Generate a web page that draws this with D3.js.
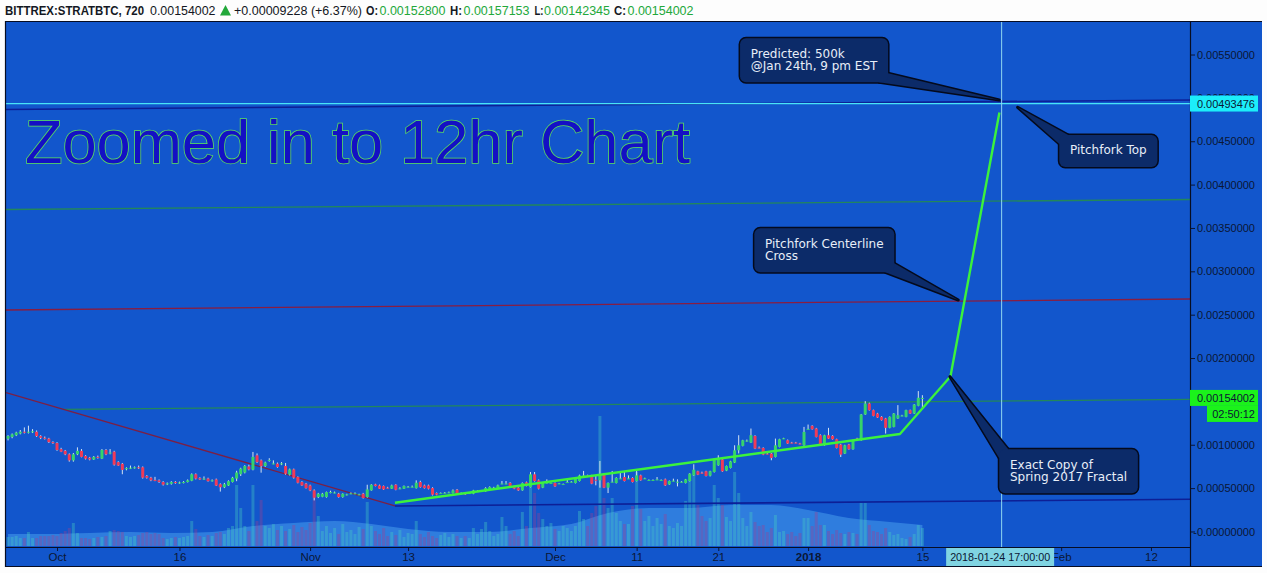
<!DOCTYPE html>
<html><head><meta charset="utf-8"><title>STRATBTC 12h</title>
<script src="https://cdn.jsdelivr.net/npm/d3@7/dist/d3.min.js"></script>
<style>html,body{margin:0;padding:0;background:#fff;overflow:hidden}svg{display:block}</style>
</head><body><svg id="chart" width="1267" height="573"></svg>
<script>
// ---------------- DATA ----------------
const symbolInfo = "BITTREX:STRATBTC, 720";
const lastPriceText = "0.00154002";
const changeText = "+0.00009228 (+6.37%)";
const headerLabels = ["O:", "H:", "L:", "C:"];
const headerValues = ["0.00152800", "0.00157153", "0.00142345", "0.00154002"];
const titleText = "Zoomed in to 12hr Chart";

const firstCandle = "2017-09-25T00:00:00Z";
const candleHours = 12;
const priceUnit = 1e-5; // OHLC values below are in units of 0.00001 BTC
const open = [
107,109,111,113,115,114,115,115,110,108,
107,103,102,95,93,89,82,89,93,87,
85,83,86,84,94,90,92,80,78,72,
73,73.5,74,74,64,62,59.5,59,57,54.5,
55,57,56,56,57,58.5,66,61.5,60,61,
58.5,60,54.5,51,53,57,61,66,68,75,
71.3,87.8,82,75.5,81.5,78,78.2,77.5,75.5,65.5,
71.6,62.8,57,55.1,53,47.4,39.7,40,39.7,45,
44.7,43.5,39.7,42.4,43.5,43.5,42.4,43.5,39.7,47.4,
54.3,53.1,52.4,50.5,49.3,53.9,49.3,49.3,51.2,51.2,
50,57,53.1,53.1,50,44.3,43.9,44.3,44.7,44.3,
48.1,43.5,44.3,44,43.5,46,46.2,46.2,48.5,50.1,
50.1,55,55,56,52,50.5,47.4,56.7,51.3,65.9,
59,50.5,55.9,55.5,55.9,55.1,54.3,56.5,57,55.9,
58.2,64.3,64.7,64.7,59.7,59,66.7,50.5,57,55.9,
60.9,62.8,60.9,61.7,58.2,64.7,60.9,59,59,59.7,
59,60.1,54.3,58.2,57,57,55.9,58.2,64.7,69.4,
67.8,69.4,64.4,68.6,76.3,83.2,70.1,73.2,79.4,93.6,
98.7,104.4,102.5,110.2,96.7,96.3,89.8,89.8,85.9,97.5,
107.1,105.2,102.5,102.5,101.4,99.4,117.9,121.8,118.7,111,
99.4,111,110.2,106.4,100.2,89.8,100.2,94.8,107.1,105.2,
134.9,147.6,139.9,136,132.2,130.3,119.5,120.6,130.3,133.3,
132.2,139.9,136,144.9,152.8];
const high = [
111,113,115,117,120,122,118,116.5,111,109.5,
108,104,103,96.5,94,90,90.5,97,95,88,
86,87,87.5,95,95,95,93,81,79,74,
76,75,76,75,65,63,63,60,58,56.5,
58,58,57.5,58,60,67,67,62.5,63.5,62,
60,61,55.5,56,59,63,70,73.5,76.5,77,
91.7,90,83,80.5,84.5,82,79.5,80,79,72.5,
72.5,63.5,58,56,54,48.5,44.5,44.5,46,47,
46,44.5,44,43.5,45,45,43.5,44.5,53.9,54.5,
55,54,53,51.5,54,54.5,51,53,52.5,53,
59,58.5,54,54,51,45,45,45.5,46,48.5,
49,45,45,45.2,48,47.5,47.5,51,52,51.5,
54,58.2,58.2,56.8,52.6,51,56.5,57.5,68.6,68.6,
60,56.5,60.1,56.5,56.5,56,55.2,60.1,58,61.5,
65.5,69.8,65.5,65.3,64.7,81.3,67.5,56.5,69.8,62.5,
68.6,68.6,64.7,62.5,69.8,65.5,62,60,60,62.8,
60,61,58.8,60.9,60.1,58,60.6,67.2,77.5,70,
69,70,70,84,87.9,84,76,81.5,99.4,111,
105.7,106,118.7,111,98,97,91,90.5,107.1,106.9,
108,106,103.3,103.3,102.2,120.6,123.3,122.5,119.5,112,
111.5,119.5,111,107,101,100,101,105.7,108,135.5,
150.3,148.5,140.5,136.8,133,131,132.7,136.5,145.7,134.5,
140.4,140.5,146.9,161.9,157.153];
const low = [
105,107.5,110,112,113,113,113.5,109,106.5,106,
102,101,93,91.5,88,80.5,80.5,88,85.5,83,
82,82.5,84,83.5,88,89,76,75.5,66,70.5,
72,72.5,72,61,61,58,58,56,53,53.5,
54,55,55,55.5,56.5,58,60,59.5,59.5,57.5,
57.5,52.5,46,50,52.5,56.5,58,64,67,70.5,
70.5,79,67.8,74.5,80.5,77.5,73.5,76.5,65.5,64.5,
61,55.5,52.5,49.5,46.5,35.8,38.5,39.5,39,44,
44,39,39,41.5,43,43,41.8,38,39,47,
52,49,48,49.5,49,47.5,48.8,49,50.5,50.8,
49.5,50.5,49.5,48.5,41.5,41.8,43.5,43.8,44.2,43.8,
42.8,43,42.2,43.5,43,45.5,45.7,45.8,48,49.6,
49.5,54.5,54.5,50.8,48.8,46.8,47,52,50.8,57.5,
48.5,50,55.4,55,51.5,54.6,53.8,56,56.5,55.4,
57.7,63.8,63.8,54.5,53.2,50.5,50,44.3,56.5,55.4,
60.4,57.7,60.4,56.5,57.7,58.5,60.4,58.5,58.5,59.2,
58.5,52.5,53.8,57.7,52,56.5,55.4,57.7,64.2,65,
66.5,63.5,63.5,68,75.8,68.8,69.6,72.7,78.9,90,
98.2,103.5,102,95,95.8,88,88.9,82.1,85.4,97,
106.5,100.9,101.6,101.6,100.5,98.9,117.4,117.4,108.5,98.9,
98.9,106.6,105.9,95.8,85.9,89.3,94.3,94.3,106.2,104.7,
134.4,139.4,132.8,130.9,127.8,112.9,119,120.1,129.8,132.8,
131.7,135.5,135.5,144.4,142.345];
const close = [
110,112,114,115,114,115,115.5,110,108,107.5,
103,102,94,92,89,82,89,93,86,84,
83,86,85,94,89,91,77,76,71,73,
73.5,74,73,62,62,59,58.5,57,54,55.5,
57,56,56.5,57,59,66,61,60,61,58,
59,53,51,54.5,58,62,68,72.5,75.5,71.5,
86,80,75.5,79.5,82.5,78.5,74.4,78.5,66.6,71.6,
62,56.2,53.1,50,47.4,38.9,43.5,43.5,45.4,45.6,
45,39.7,43.5,42.8,44,44,42.8,38.5,48.5,53.9,
52.4,49.3,48.5,50,53.1,48.1,49.7,52.4,51.6,51.6,
56.2,51.2,50,49.3,42.4,42.4,44.3,44.7,45.1,47.4,
43.5,44,42.8,44.3,47.4,46.5,46.6,50.1,51.3,50.5,
53.2,55.3,55.3,51.3,49.3,47.4,55.9,52.4,65.9,58.2,
49.3,55.9,56.3,55.9,52,55.5,54.7,57,57.4,60.9,
64.7,64.7,64.3,55.1,59.3,64.7,50.5,55.9,57.4,61.7,
61.3,58.2,61.3,57,64.7,59,61.3,59.4,59.4,60.1,
59.4,53.2,58.2,58.6,57.4,57.4,60.1,66.7,71.3,65.5,
67.4,64,69.4,83.2,84.8,69.4,75.5,80.9,93.6,99.4,
105.2,104.8,111,95.6,96.3,88.6,89.4,84.8,99.4,106.4,
107.5,101.4,102.1,102.1,101,114.8,118.3,117.9,109,99.4,
111,107.1,106.4,96.3,88.6,99.4,94.8,105.2,106.7,134.9,
147.6,139.9,133.3,131.4,128.3,119.5,132.2,136,134.1,133.7,
139.9,136,146.4,154.2,154.002];
// volume per candle (relative units)
const volume = [
9,9,10,8,8,14,8,8,10,10,
10,11,10,13,15,18,23,13,8,8,
7,8,9,9,10,15,16,15,14,10,
9,10,11,13,14,12,13,12,8,7,
8,9,8,9,10,25,17,10,9,11,
10,13,14,12,18,20,61,38,20,15,
61,25,46,20,18,22,16,20,15,17,
21,14,19,16,23,48,30,15,20,13,
18,12,22,14,16,12,19,17,44,20,
15,12,18,10,14,11,16,9,13,12,
25,12,9,14,10,8,11,13,9,12,
10,8,10,8,18,12,17,24,15,10,
12,29,20,12,15,10,34,20,61,53,
33,27,20,23,17,15,20,18,15,20,
35,27,20,33,40,130,48,38,48,33,
25,22,22,40,74,37,25,30,20,28,
22,32,20,18,23,20,45,66,71,41,
30,25,28,61,48,41,29,25,74,53,
28,20,34,24,20,21,14,18,31,14,
15,12,14,10,13,28,28,20,34,21,
21,15,12,16,13,12,14,13,12,43,
43,21,15,14,12,18,14,11,12,8,
7,9,12,21,18];
// volume moving average, read at a few candles: [candle index, value]
const volumeMA = [[0,12],[10,12],[20,13],[30,14],[40,13],[50,14],[60,20],[70,23],[80,25],[89,22],[98,17],[108,14],[118,14],[128,18],[138,22],[147,33],[157,38],[167,38],[177,41],[187,41],[196,36],[206,28],[216,24],[224,21]];

// drawing tools: [time, price]
const pitchforkTop     = [["2017-09-24T18:00Z",0.004866],["2018-02-16T18:45Z",0.004975]];
const pitchforkUpper   = [["2017-09-24T18:00Z",0.003713],["2018-02-16T18:45Z",0.003828]];
const pitchforkCenter  = [["2017-09-24T18:00Z",0.002554],["2018-02-16T18:45Z",0.002681]];
const pitchforkLower   = [["2017-10-01T17:30Z",0.001409],["2018-02-16T18:45Z",0.001524]];
const pitchforkBottom  = [["2017-11-11T09:30Z",0.000294],["2018-02-16T18:45Z",0.000371]];
const downTrend        = [["2017-09-24T18:00Z",0.0016004],["2017-11-11T09:30Z",0.000294]];
const fractalPath      = [["2017-11-11T09:30Z",0.000332],["2018-01-12T06:00Z",0.001124],["2018-01-18T10:30Z",0.001787],["2018-01-24T10:30Z",0.004831]];

const calloutTexts  = [["Predicted: 500k","@Jan 24th, 9 pm EST"],["Pitchfork Top"],["Pitchfork Centerline","Cross"],["Exact Copy of","Spring 2017 Fractal"]];
const calloutBoxAt  = [["2017-12-23T16:00Z",0.005687],["2018-01-31T18:30Z",0.004572],["2017-12-25T10:00Z",0.003496],["2018-01-24T10:00Z",0.000948]];
const calloutTipAt  = [["2018-01-24T10:00Z",0.004975],["2018-01-26T16:00Z",0.004891],["2018-01-19T09:30Z",0.002669],["2018-01-18T09:00Z",0.001785]];
const calloutCorner = ["br","tl","br","tl"];

// 0.0015 is hidden behind the last-price badge in the reference, so it is not listed
const priceTicks = [0,0.0005,0.001,0.002,0.0025,0.003,0.0035,0.004,0.0045,0.005,0.0055];
const priceTickLabels = ["-0.00000000","0.00050000","0.00100000","0.00200000","0.00250000","0.00300000","0.00350000","0.00400000","0.00450000","0.00500000","0.00550000"];
const timeTicks = ["2017-10-01","2017-10-16","2017-11-01","2017-11-13","2017-12-01","2017-12-11","2017-12-21","2018-01-01","2018-01-15","2018-02-01","2018-02-12"];
const timeTickLabels = ["Oct","16","Nov","13","Dec","11","21","2018","15","Feb","12"];
const crosshairTime = "2018-01-24T17:00:00Z";
const crosshairTimeLabel = "2018-01-24 17:00:00";
const crosshairPrice = 0.00493476;
const crosshairPriceLabel = "0.00493476";
const lastPrice = 0.00154002;
const countdown = "02:50:12";

// ---------------- CHART ----------------
const W = 1267, H = 573;
const P = {l: 6, r: 1190, t: 22, b: 547};
const BG = "#1256cc", DARK = "#0b1634";
const svg = d3.select("#chart");
const T = s => new Date(s);

const x = d3.scaleUtc().domain([T("2017-09-24T18:00:00Z"), T("2018-02-16T18:45:00Z")]).range([P.l, P.r]);
const y = d3.scaleLinear().domain([-0.000179, 0.005875]).range([P.b, P.t]);
const yVol = d3.scaleLinear().domain([0, 130]).range([546, 416]);

const start = T(firstCandle);
const candles = close.map((c, i) => ({
  t: d3.utcHour.offset(start, candleHours * i),
  o: open[i] * priceUnit, h: high[i] * priceUnit, l: low[i] * priceUnit, c: c * priceUnit, v: volume[i]
}));

svg.append("rect").attr("width", W).attr("height", H).attr("fill", "#fdfdfd");
svg.append("rect").attr("x", 5).attr("y", 21).attr("width", 1257).attr("height", 546).attr("fill", BG);

svg.append("defs").append("clipPath").attr("id", "pc")
  .append("rect").attr("x", P.l).attr("y", P.t).attr("width", P.r - P.l).attr("height", P.b - P.t);
const plot = svg.append("g").attr("clip-path", "url(#pc)");

// volume MA area
plot.append("path")
  .datum(volumeMA)
  .attr("fill", "rgba(100,195,255,0.36)")
  .attr("d", d3.area().x(d => x(candles[d[0]].t)).y0(yVol(0)).y1(d => yVol(d[1])).curve(d3.curveMonotoneX));

// volume bars
plot.append("g").selectAll("rect").data(candles).join("rect")
  .attr("x", d => x(d.t) - 1.5).attr("width", 3)
  .attr("y", d => yVol(d.v)).attr("height", d => yVol(0) - yVol(d.v))
  .attr("fill", d => d.c >= d.o ? "rgba(70,205,195,0.36)" : "rgba(160,60,140,0.36)");

// pitchfork / trend lines
const line = d3.line().x(d => x(T(d[0]))).y(d => y(d[1]));
[[pitchforkTop, "#0d1f96", 1.6], [pitchforkUpper, "#23875a", 1.3], [pitchforkCenter, "#8a1d40", 1.3],
 [pitchforkLower, "#23875a", 1.3], [pitchforkBottom, "#0d1f96", 1.6], [downTrend, "#7c1f44", 1.3]]
  .forEach(([pts, col, w]) => plot.append("path").datum(pts).attr("d", line)
    .attr("fill", "none").attr("stroke", col).attr("stroke-width", w));

// candles
const cg = plot.append("g");
cg.selectAll("line").data(candles).join("line")
  .attr("x1", d => x(d.t)).attr("x2", d => x(d.t))
  .attr("y1", d => y(d.h)).attr("y2", d => y(d.l))
  .attr("stroke", "#d3e3f1").attr("stroke-width", 1);
cg.selectAll("rect").data(candles).join("rect")
  .attr("x", d => x(d.t) - 1.5).attr("width", 3)
  .attr("y", d => y(Math.max(d.o, d.c)))
  .attr("height", d => Math.max(1, Math.abs(y(d.o) - y(d.c))))
  .attr("fill", d => d.c >= d.o ? "#36d36b" : "#f03a57");

// fractal projection
plot.append("path").datum(fractalPath).attr("d", line)
  .attr("fill", "none").attr("stroke", "#3cf23c").attr("stroke-width", 2.4).attr("stroke-linejoin", "round");

// crosshair
const cx = x(T(crosshairTime)), cy = y(crosshairPrice);
plot.append("line").attr("x1", P.l).attr("x2", P.r).attr("y1", cy).attr("y2", cy)
  .attr("stroke", "#48e4f6").attr("stroke-width", 1.2);
svg.append("line").attr("x1", cx).attr("x2", cx).attr("y1", P.t).attr("y2", P.b)
  .attr("stroke", "#8fd6f0").attr("stroke-width", 1);

// title
plot.append("text").attr("x", 25).attr("y", 163)
  .attr("font-family", "'Liberation Sans', Arial, sans-serif").attr("font-size", 61)
  .attr("fill", "#1410c4").attr("stroke", "#5ce25c").attr("stroke-width", 1.5)
  .attr("paint-order", "stroke")
  .attr("textLength", 665).attr("lengthAdjust", "spacingAndGlyphs")
  .text(titleText);

// callouts
calloutTexts.forEach((lines, k) => {
  const g = svg.append("g");
  const bx = x(T(calloutBoxAt[k][0])), by = y(calloutBoxAt[k][1]);
  const tx = x(T(calloutTipAt[k][0])), ty = y(calloutTipAt[k][1]);
  const tg = g.append("g").attr("font-family", "'DejaVu Sans', Verdana, sans-serif").attr("font-size", 12).attr("fill", "#e8eef8");
  lines.forEach((s, j) => tg.append("text").attr("x", bx + 10.7).attr("y", by + 19.5 + 12 * j).text(s));
  const tw = d3.max(tg.selectAll("text").nodes(), n => n.getComputedTextLength());
  const w = tw + 21.4, h = 32 + 12 * (lines.length - 1);
  let base;
  if (calloutCorner[k] === "br") base = [[bx + w - 9, by + h], [bx + w, by + h - 9]];
  else base = [[bx + 9, by], [bx, by + 9]];
  const tail = "M" + base[0] + "L" + [tx, ty] + "L" + base[1] + "Z";
  g.insert("path", "g").attr("d", tail).attr("fill", "none").attr("stroke", "#040a1c").attr("stroke-width", 3).attr("stroke-linejoin", "round");
  g.insert("rect", "g").attr("x", bx).attr("y", by).attr("width", w).attr("height", h).attr("rx", 6)
    .attr("fill", "none").attr("stroke", "#040a1c").attr("stroke-width", 3);
  g.insert("path", "g").attr("d", tail).attr("fill", "#0c2b69");
  g.insert("rect", "g").attr("x", bx).attr("y", by).attr("width", w).attr("height", h).attr("rx", 6).attr("fill", "#0c2b69");
});

// price axis
const ya = svg.append("g").attr("transform", `translate(${P.r},0)`)
  .call(d3.axisRight(y).tickValues(priceTicks).tickFormat((d, i) => priceTickLabels[i]).tickSize(5));
ya.select(".domain").remove();
ya.selectAll(".tick line").attr("stroke", DARK);
ya.selectAll(".tick text").attr("x", 65).attr("text-anchor", "end").attr("fill", DARK)
  .attr("font-family", "'Liberation Sans', Arial, sans-serif").attr("font-size", 11);

// time axis
const xa = svg.append("g").attr("transform", `translate(0,${P.b})`)
  .call(d3.axisBottom(x).tickValues(timeTicks.map(T)).tickFormat((d, i) => timeTickLabels[i]).tickSize(4));
xa.select(".domain").remove();
xa.selectAll(".tick line").attr("stroke", DARK);
xa.selectAll(".tick text").attr("y", 14).attr("dy", null).attr("fill", DARK)
  .attr("font-family", "'Liberation Sans Narrow', 'Liberation Sans', Arial, sans-serif").attr("font-size", 11.5)
  .attr("font-weight", (d, i) => timeTickLabels[i] === "2018" ? "bold" : "normal");

// frame lines
const fr = svg.append("g").attr("stroke", "#070d22").attr("stroke-width", 1.2);
fr.append("line").attr("x1", 5.5).attr("x2", 5.5).attr("y1", 21).attr("y2", 567);
fr.append("line").attr("x1", 5).attr("x2", 1262).attr("y1", 21.5).attr("y2", 21.5);
fr.append("line").attr("x1", P.r + 0.5).attr("x2", P.r + 0.5).attr("y1", 21).attr("y2", 567);
fr.append("line").attr("x1", 5).attr("x2", P.r).attr("y1", P.b + 0.5).attr("y2", P.b + 0.5);
fr.append("line").attr("x1", 5).attr("x2", 1262).attr("y1", 566.5).attr("y2", 566.5);

// axis labels for crosshair / last price
function priceBadge(yc, x0, txt, fill) {
  svg.append("rect").attr("x", x0).attr("y", yc - 8).attr("width", 1258 - x0).attr("height", 16).attr("fill", fill);
  svg.append("text").attr("x", 1255).attr("y", yc + 4).attr("text-anchor", "end").attr("fill", DARK)
    .attr("font-family", "'Liberation Sans', Arial, sans-serif").attr("font-size", 11).text(txt);
}
priceBadge(cy, P.r, crosshairPriceLabel, "#1ceefa");
const ly = y(lastPrice);
priceBadge(ly, P.r, lastPriceText, "#1bf21b");
priceBadge(ly + 16, 1207, countdown, "#1bf21b");

svg.append("rect").attr("x", cx - 55.5).attr("y", P.b + 1).attr("width", 108).attr("height", 18).attr("fill", "#80d4e2");
svg.append("text").attr("x", cx - 1.5).attr("y", 561).attr("text-anchor", "middle").attr("fill", DARK)
  .attr("font-family", "'Liberation Sans Narrow', 'Liberation Sans', Arial, sans-serif").attr("font-size", 11.5)
  .attr("textLength", 100).attr("lengthAdjust", "spacingAndGlyphs").text(crosshairTimeLabel);

// header
const hdr = svg.append("g").attr("font-family", "'Liberation Sans Narrow', 'Liberation Sans', Arial, sans-serif").attr("font-size", 12.5);
function seg(xp, txt, w, fill, bold) {
  hdr.append("text").attr("x", xp).attr("y", 14.5).attr("fill", fill).attr("font-weight", bold ? "bold" : "normal")
    .attr("textLength", w).attr("lengthAdjust", "spacingAndGlyphs").text(txt);
}
const HG = "#22a83a", HD = "#131722";
seg(5, symbolInfo, 139, HD, true);
seg(150, lastPriceText, 65.5, HD, false);
svg.append("path").attr("d", "M220,15.5L225.5,5L231,15.5Z").attr("fill", HG);
seg(234, changeText, 128, HD, false);
const hx = [366, 450, 534.5, 614];
headerLabels.forEach((lab, i) => {
  seg(hx[i], lab, lab === "L:" ? 9 : 12, HD, true);
  seg(hx[i] + (lab === "L:" ? 9.5 : 13.5), headerValues[i], 66, HG, false);
});
</script>
</body></html>
